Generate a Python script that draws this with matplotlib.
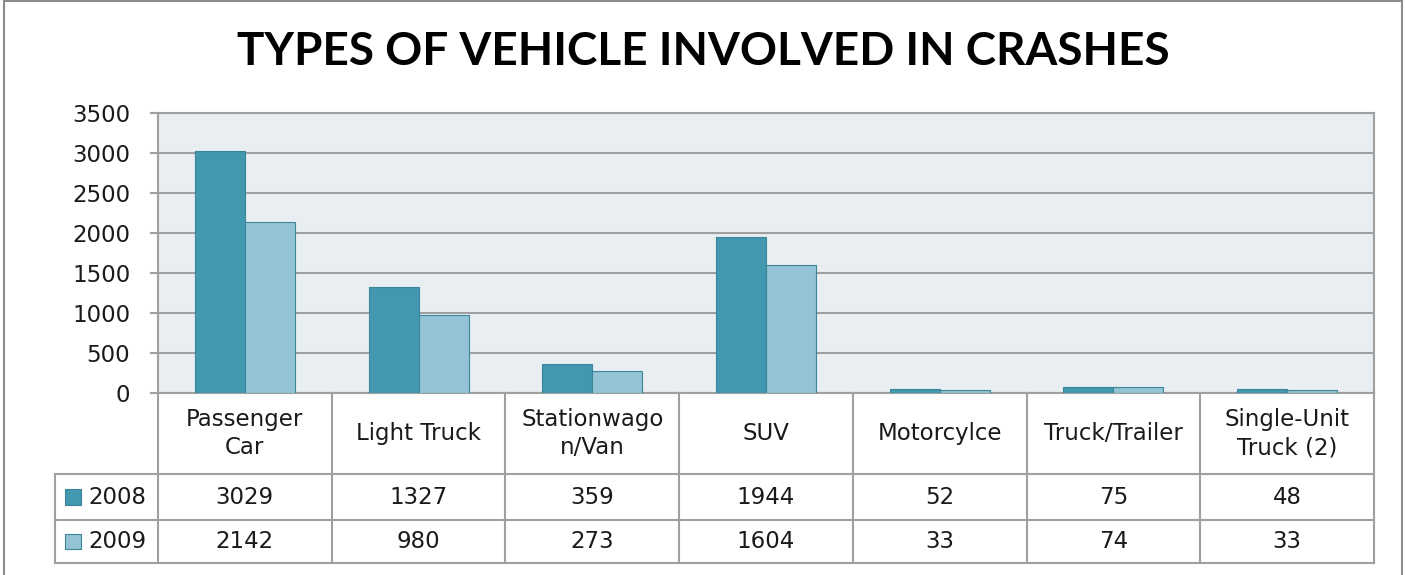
import matplotlib.pyplot as plt
import matplotlib.patches as patches
from matplotlib.lines import Line2D
from matplotlib.transforms import blended_transform_factory
import numpy as np

plt.rcParams['font.family'] = ['DejaVu Sans']

# data
categories = ['Passenger\nCar', 'Light Truck', 'Stationwago\nn/Van', 'SUV',
              'Motorcylce', 'Truck/Trailer', 'Single-Unit\nTruck (2)']
series_names = ['2008', '2009']
values_2008 = [3029, 1327, 359, 1944, 52, 75, 48]
values_2009 = [2142, 980, 273, 1604, 33, 74, 33]
y_ticks = [0, 500, 1000, 1500, 2000, 2500, 3000, 3500]

col_2008 = '#4198AF'
col_2009 = '#93C3D5'
edge = '#3A8599'
grid_col = '#A0A0A0'
txt = '#1A1A1A'
fs = 16.5

W, H = 1406, 575
fig = plt.figure(figsize=(W / 100, H / 100), dpi=100)

# outer chart border
fig.patches.append(patches.Rectangle((4 / W, -0.05), 1398 / W, 1.05 - 1 / H,
                                     transform=fig.transFigure, fill=False,
                                     edgecolor='#8C8C8C', lw=1.5))

ax_l, ax_r, ax_t, ax_b = 158, 1374, 113, 393
ax = fig.add_axes([ax_l / W, 1 - ax_b / H, (ax_r - ax_l) / W, (ax_b - ax_t) / H])
ax.set_facecolor('#E8EEF2')

x = np.arange(len(categories))
bw = 0.288
ax.bar(x - bw / 2, values_2008, bw, color=col_2008, edgecolor=edge, lw=0.8, zorder=3)
ax.bar(x + bw / 2, values_2009, bw, color=col_2009, edgecolor=edge, lw=0.8, zorder=3)

ax.set_xlim(-0.5, len(categories) - 0.5)
ax.set_ylim(0, 3500)
ax.set_yticks(y_ticks)
ax.set_yticklabels([str(v) for v in y_ticks], fontsize=fs, color=txt)
ax.set_xticks([])
ax.yaxis.grid(True, color=grid_col, lw=1.5, zorder=0)
ax.tick_params(axis='y', length=6, width=1.5, color=grid_col, pad=14)
for s in ax.spines.values():
    s.set_color(grid_col)
    s.set_linewidth(1.5)

fig.text(0.5, 1 - 52 / H, 'TYPES OF VEHICLE INVOLVED IN CRASHES',
         ha='center', va='center', fontsize=33, fontweight='bold',
         color='black', family='Lato')

# data table below the axis
tr = blended_transform_factory(ax.transData, ax.transAxes)
ph = ax_b - ax_t
y_head = -(474 - ax_b) / ph
y_r1 = -(520 - ax_b) / ph
y_r2 = -(563 - ax_b) / ph
x_lab = -0.5 - (ax_l - 55) / ((ax_r - ax_l) / len(categories))
x_end = len(categories) - 0.5

def hline(y, x0, x1):
    ax.add_line(Line2D([x0, x1], [y, y], transform=tr, color=grid_col,
                       lw=1.5, clip_on=False))

def vline(xv, y0, y1):
    ax.add_line(Line2D([xv, xv], [y0, y1], transform=tr, color=grid_col,
                       lw=1.5, clip_on=False))

hline(y_head, x_lab, x_end)
hline(y_r1, x_lab, x_end)
hline(y_r2, x_lab, x_end)
vline(x_lab, y_head, y_r2)
for i in range(len(categories) + 1):
    vline(i - 0.5, 0, y_r2)

for i, c in enumerate(categories):
    ax.text(i, y_head / 2, c, transform=tr, ha='center', va='center',
            fontsize=fs, color=txt, linespacing=1.3)

rows = [(series_names[0], values_2008, col_2008, (y_head + y_r1) / 2),
        (series_names[1], values_2009, col_2009, (y_r1 + y_r2) / 2)]
for name, vals, col, yc in rows:
    for i, v in enumerate(vals):
        ax.text(i, yc, str(v), transform=tr, ha='center', va='center',
                fontsize=fs, color=txt)
    ax.add_patch(patches.Rectangle((x_lab + 0.06, yc - 0.028), 0.09, 0.056,
                                   transform=tr, facecolor=col, edgecolor=edge,
                                   lw=0.8, clip_on=False))
    ax.text(x_lab + 0.19, yc, name, transform=tr, ha='left', va='center',
            fontsize=fs, color=txt)

fig.savefig('out.png', dpi=100)
